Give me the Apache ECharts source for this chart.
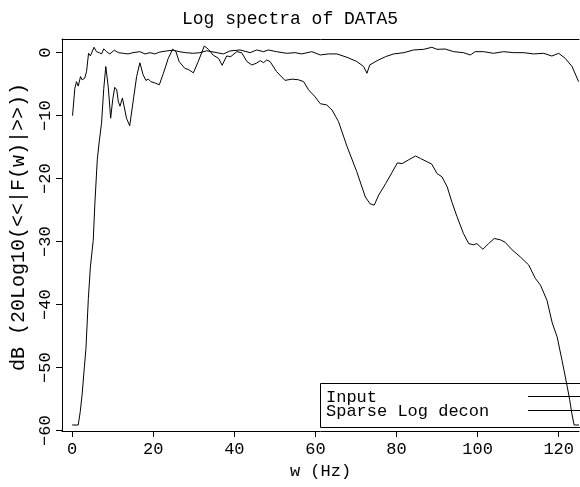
<!DOCTYPE html>
<html>
<head>
<meta charset="utf-8">
<script src="https://cdn.jsdelivr.net/npm/echarts@6/dist/echarts.min.js"></script>
<style>
html,body{margin:0;padding:0;background:#fff;}
#chart{width:580px;height:487px;}
</style>
</head>
<body>
<div id="chart"></div>
<script>
// ---- data ----
var xTicks = [0, 20, 40, 60, 80, 100, 120];
var yTicks = [0, -10, -20, -30, -40, -50, -60];

// Input spectrum (band-limited)
var inF = [0, 1.5, 2.0, 2.5, 3.0, 3.4, 4.0, 4.5, 5.2, 5.6, 6.2, 6.7, 7.25, 7.8, 8.3, 8.9, 9.5, 10.0, 10.5, 11.0, 11.4, 11.8, 12.4, 13.0, 13.4, 14.2, 15.2, 15.9, 16.7, 17.5, 18.2, 18.8, 19.4, 20.4, 21.5, 22.5, 23.7, 24.8, 25.6, 26.4, 27.8, 28.6, 29.9, 31.1, 32.6, 33.6, 34.8, 36.1, 37.0, 38.1, 39.1, 40.6, 41.8, 43.1, 44.3, 45.4, 46.4, 47.2, 48.0, 48.8, 50.4, 52.5, 54.2, 55.8, 57.1, 58.3, 59.9, 61.2, 62.8, 64.1, 65.7, 67.8, 70.2, 72.3, 73.5, 74.5, 75.6, 77.3, 78.9, 80.2, 81.4, 83.0, 84.7, 85.9, 87.5, 88.7, 90.0, 91.2, 92.5, 93.7, 94.9, 96.5, 97.8, 99.0, 99.8, 101.3, 102.7, 104.1, 105.6, 106.8, 108.5, 110.5, 112.6, 114.2, 115.5, 117.1, 118.4, 119.6, 120.8, 122.1, 122.7, 123.3, 123.8, 125.0];
var inDb = [-59.1, -59.1, -57, -54, -50, -47, -39, -34, -29.8, -24, -17, -14, -11.2, -5.7, -2.2, -5.4, -10.4, -7.5, -5.5, -5.9, -7.8, -8.5, -7.2, -9.1, -10.4, -11.6, -7.0, -3.8, -1.6, -3.5, -4.4, -4.2, -4.6, -4.8, -5.1, -3.3, -0.9, 0.54, 0.16, -1.42, -2.5, -2.65, -3.2, -1.4, 1.06, 0.54, -0.4, -0.9, -2.0, -0.53, -0.63, 0.16, 0, -1.4, -1.95, -1.69, -1.27, -1.58, -1.16, -1.4, -3.0, -4.4, -4.2, -4.3, -4.6, -5.9, -7.0, -8.1, -8.3, -9.1, -10.95, -14.9, -18.9, -22.9, -24.0, -24.2, -22.6, -20.8, -19.0, -17.5, -17.6, -17.0, -16.4, -16.8, -17.3, -17.7, -19.2, -19.7, -21.3, -23.8, -26.0, -28.7, -30.3, -30.5, -30.3, -31.2, -30.3, -29.5, -29.7, -30.1, -31.3, -32.4, -33.7, -35.8, -36.9, -39.3, -42.9, -45.1, -48.8, -53.0, -55.1, -57.5, -59.1, -59.1];

// Sparse Log decon spectrum (whitened)
var decF = [0.1, 0.67, 1.08, 1.5, 2.07, 2.47, 3.1, 3.55, 4.05, 4.5, 5.4, 6.0, 6.7, 7.25, 7.8, 8.5, 9.3, 10.4, 11.4, 12.6, 13.8, 15.0, 16.7, 18.0, 19.2, 20.4, 21.6, 23.3, 24.9, 26.4, 28.0, 29.9, 31.5, 33.2, 35.7, 37.3, 38.9, 41.4, 43.9, 45.5, 47.2, 48.4, 50.4, 52.9, 55.0, 56.6, 59.1, 61.2, 63.2, 65.3, 67.8, 70.2, 71.9, 72.7, 73.4, 75.2, 77.3, 79.3, 81.8, 84.2, 86.7, 88.7, 90.0, 92.0, 94.1, 96.5, 98.2, 99.4, 101.5, 103.9, 106.4, 108.9, 111.4, 113.8, 116.3, 118.3, 120.0, 121.6, 123.3, 124.9];
var decDb = [-10.0, -5.65, -4.6, -5.3, -3.8, -4.3, -4.06, -3.0, -0.1, -0.5, 0.86, 0.16, 0, -0.2, 0.6, 0.16, -0.2, 0.4, 0, -0.1, -0.2, 0, 0.16, -0.2, 0, -0.2, 0.1, 0.27, 0.4, 0.16, 0.0, -0.1, 0, 0.3, 0, -0.2, 0.27, 0.43, 0, 0.43, 0.16, 0.43, 0.16, -0.1, 0, -0.2, 0.16, -0.36, -0.2, -0.2, -0.74, -1.4, -2.2, -3.27, -1.95, -1.27, -0.63, -0.2, 0, 0.43, 0.53, 0.85, 0.53, 0.58, 0.16, 0, -0.36, 0.16, 0.16, -0.1, 0.16, 0, 0, -0.2, -0.1, -0.53, -0.1, -0.9, -2.2, -4.6];

var seriesNames = ['Input', 'Sparse Log decon'];
var titleText = 'Log spectra of DATA5';
var xName = 'w (Hz)';
var yName = 'dB (20Log10(<<|F(w)|>>))';

// ---- chart ----
var FONT = 'Liberation Mono';
function pairs(xs, ys) { return xs.map(function (x, i) { return [x, ys[i]]; }); }
function fmt(v) { return String(v).replace('-', '\u2212'); }

var chart = echarts.init(document.getElementById('chart'), null, { renderer: 'canvas' });
chart.setOption({
  animation: false,
  backgroundColor: '#fff',
  title: {
    text: titleText, left: 'center', top: 5,
    textStyle: { fontFamily: FONT, fontSize: 18, fontWeight: 'normal', color: '#000' }
  },
  grid: { left: 62, right: 1, top: 39, bottom: 56, containLabel: false },
  xAxis: [{
    type: 'value', min: -2.5, max: 125,
    name: xName, nameLocation: 'middle', nameGap: 31,
    nameTextStyle: { fontFamily: FONT, fontSize: 17, color: '#000' },
    axisLine: { show: true, onZero: false, lineStyle: { color: '#000', width: 1 } },
    axisTick: { show: true, length: 6, lineStyle: { color: '#000' }, customValues: xTicks },
    axisLabel: { fontFamily: FONT, fontSize: 17, color: '#000', margin: 10, customValues: xTicks, formatter: fmt },
    splitLine: { show: false }
  }, {
    type: 'value', min: -2.5, max: 125, position: 'top',
    axisLine: { show: true, onZero: false, lineStyle: { color: '#000', width: 1 } },
    axisTick: { show: false }, axisLabel: { show: false }, splitLine: { show: false }
  }],
  yAxis: {
    type: 'value', min: -60.05, max: 2.17,
    name: yName, nameLocation: 'middle', nameGap: 30, nameRotate: 90,
    nameTextStyle: { fontFamily: FONT, fontSize: 20, color: '#000', padding: [0, 0, 0, 16] },
    axisLine: { show: true, onZero: false, lineStyle: { color: '#000', width: 1 } },
    axisTick: { show: true, length: 6, lineStyle: { color: '#000' }, customValues: yTicks },
    axisLabel: { fontFamily: FONT, fontSize: 17, color: '#000', margin: 8, rotate: 90, customValues: yTicks, formatter: fmt },
    splitLine: { show: false }
  },
  series: [{
    name: seriesNames[0], type: 'line', xAxisIndex: 0, data: pairs(inF, inDb),
    showSymbol: false, symbol: 'none', smooth: false,
    lineStyle: { color: '#000', width: 1 }, z: 3
  }, {
    name: seriesNames[1], type: 'line', xAxisIndex: 0, data: pairs(decF, decDb),
    showSymbol: false, symbol: 'none', smooth: false,
    lineStyle: { color: '#000', width: 1 }, z: 3
  }],
  graphic: [
    { type: 'rect', shape: { x: 320.5, y: 383.5, width: 270, height: 44 }, style: { fill: 'none', stroke: '#000', lineWidth: 1 }, z: 1 },
    { type: 'text', x: 326, y: 397, style: { text: seriesNames[0], font: '17px "' + FONT + '"', fill: '#000', verticalAlign: 'middle' }, z: 2 },
    { type: 'text', x: 326, y: 411, style: { text: seriesNames[1], font: '17px "' + FONT + '"', fill: '#000', verticalAlign: 'middle' }, z: 2 },
    { type: 'line', shape: { x1: 528, y1: 396.5, x2: 580, y2: 396.5 }, style: { stroke: '#000', lineWidth: 1 }, z: 2 },
    { type: 'line', shape: { x1: 528, y1: 410.5, x2: 580, y2: 410.5 }, style: { stroke: '#000', lineWidth: 1 }, z: 2 }
  ]
});
</script>
</body>
</html>
